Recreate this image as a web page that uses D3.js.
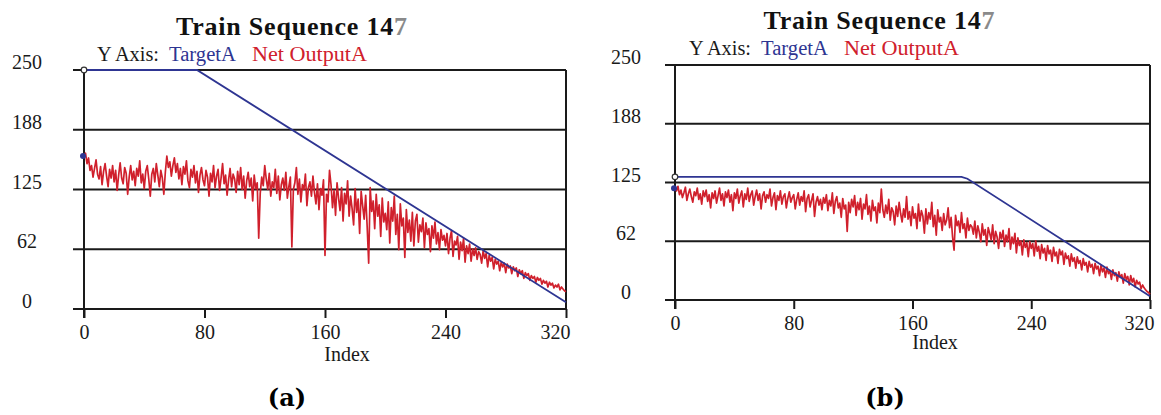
<!DOCTYPE html>
<html><head><meta charset="utf-8">
<script src="https://cdn.jsdelivr.net/npm/d3@7/dist/d3.min.js"></script>
<style>body{margin:0;background:#fff}svg{display:block}</style>
</head><body><svg id="c" width="1161" height="415"></svg>
<script>
// ---------- data ----------
const xTicks = [0, 80, 160, 240, 320];
const yTicks = [0, 62.5, 125, 187.5, 250];
const yTickLabels = ["0", "62", "125", "188", "250"];
const titleText = "Train Sequence 14";
const titleTail = "7";
const legendPrefix = "Y Axis:";
const legendItems = ["TargetA", "Net OutputA"];
const xAxisTitle = "Index";
const panelLabels = ["(a)", "(b)"];

// Panel (a)
const targetA_idx = [0, 75, 320];
const targetA_val = [250, 250, 7];
const outputA = [
160,163,152,158,145,150,138,147,156,141,136,149,130,144,152,139,128,146,137,150,
133,145,124,140,153,137,131,148,142,120,138,150,135,144,129,147,139,155,132,141,
126,144,150,136,118,141,147,133,152,140,128,145,137,120,143,160,148,154,139,150,
158,143,152,136,147,130,149,141,155,134,127,146,138,150,132,144,122,140,148,135,
129,145,138,118,142,133,150,127,139,146,124,137,152,131,140,119,135,147,128,141,
136,122,144,130,148,125,139,116,134,143,128,137,113,140,126,132,74,121,138,129,
150,136,125,142,118,133,127,146,121,139,114,130,137,124,143,116,128,138,65,125,
132,148,120,136,112,130,125,141,108,127,133,118,139,122,110,131,104,126,119,135,
56,120,112,145,130,106,124,98,132,116,103,127,92,121,110,134,97,118,105,88,
126,101,115,79,123,108,94,119,86,48,127,102,113,84,120,97,109,76,116,91,
100,83,112,69,106,92,118,78,99,62,110,87,95,54,104,80,93,71,101,66,
92,99,70,88,81,95,64,90,78,84,60,87,74,91,68,80,62,83,72,77,
66,79,58,74,82,55,71,67,76,52,70,61,74,49,66,58,68,50,63,56,
64,52,60,57,48,61,53,58,44,56,50,54,42,52,47,50,40,49,44,48,
38,47,43,45,37,44,40,43,34,41,37,40,32,38,35,37,30,35,32,34,
28,33,30,32,26,30,27,29,23,28,25,27,22,25,23,26,20,23,21,19,
18];

// Panel (b)
const targetB_idx = [0, 193, 197, 320];
const targetB_val = [131, 131, 129, 4];
const outputB = [
119,116,121,112,117,109,114,120,106,113,118,110,104,115,111,119,107,113,102,116,
110,117,105,112,98,114,108,116,103,111,119,106,113,100,115,109,117,104,112,95,
114,108,118,103,111,116,99,113,107,119,105,112,116,101,110,117,106,113,97,111,
115,104,112,108,118,100,109,114,96,111,106,116,102,110,113,98,108,115,104,109,
112,97,107,114,101,110,105,116,94,108,112,99,106,113,89,104,110,101,107,96,
109,103,112,95,106,100,114,92,105,110,98,103,88,108,97,101,73,104,93,107,
99,111,90,104,96,108,86,102,97,112,91,100,84,106,95,99,82,103,93,118,
96,88,101,92,107,85,98,94,80,100,89,104,92,83,97,88,110,86,94,79,
99,87,92,76,102,84,95,89,71,97,81,93,86,104,78,90,69,96,83,88,
74,92,80,85,98,77,88,67,53,90,79,84,72,93,76,81,66,87,74,80,
78,70,84,66,79,72,62,81,69,75,58,77,71,64,80,60,73,67,55,72,
65,74,57,69,62,76,54,67,60,71,50,66,58,63,48,64,56,61,46,62,
55,60,47,63,52,57,44,59,50,55,42,58,49,53,41,56,47,51,39,54,
48,52,38,50,44,47,36,49,41,45,34,46,39,42,32,44,37,40,30,41,
35,38,28,39,33,36,26,37,30,34,24,35,28,31,22,32,26,29,20,30,
24,27,18,28,22,25,16,26,19,23,14,21,17,19,12,16,13,11,9,8,
6];

// ---------- layout ----------
const panels = [
  {x0:84, x1:566, yT:70, yB:309, gridL:73, ylabX:27, titleX:291.5, titleY:35, legX:97, legY:61,
   idxX:347, idxY:361, xlabY:339, label:panelLabels[0], labX:287,
   tIdx:targetA_idx, tVal:targetA_val, out:outputA},
  {x0:675, x1:1150, yT:65, yB:300, gridL:665, ylabX:626, titleX:879, titleY:29, legX:689, legY:55,
   idxX:935, idxY:349, xlabY:330, label:panelLabels[1], labX:885,
   tIdx:targetB_idx, tVal:targetB_val, out:outputB}
];

const svg = d3.select("#c");
const serif = "'Liberation Serif','Times New Roman',serif";
const blue = "#2e3592", red = "#d0202c", ink = "#1a1a1a";

panels.forEach(p => {
  const x = d3.scaleLinear().domain([0, 320]).range([p.x0, p.x1]);
  const y = d3.scaleLinear().domain([0, 250]).range([p.yB, p.yT]);
  const g = svg.append("g");

  // gridlines
  g.selectAll(".grid").data(yTicks).join("line")
    .attr("x1", p.gridL).attr("x2", p.x1)
    .attr("y1", d => y(d)).attr("y2", d => y(d))
    .attr("stroke", ink).attr("stroke-width", 2);

  // x axis ticks
  const xAxis = d3.axisBottom(x).tickValues(xTicks).tickSize(9).tickPadding(3).tickFormat(d3.format("d"));
  const xa = g.append("g").attr("transform", `translate(0,${p.yB})`).call(xAxis);
  xa.select(".domain").remove();
  xa.selectAll(".tick line").attr("stroke", ink).attr("stroke-width", 2);
  xa.selectAll(".tick text").attr("font-family", serif).attr("font-size", 20)
    .attr("fill", ink).attr("y", p.xlabY - p.yB).attr("dy", 0)
    .attr("text-anchor", d => d === xTicks[xTicks.length - 1] ? "end" : "middle")
    .attr("x", d => d === xTicks[xTicks.length - 1] ? 4 : 0);

  // left axis + right border
  g.append("line").attr("x1", p.x0).attr("x2", p.x0).attr("y1", p.yT).attr("y2", p.yB + 9)
    .attr("stroke", ink).attr("stroke-width", 2);
  g.append("line").attr("x1", p.x1).attr("x2", p.x1).attr("y1", p.yT).attr("y2", p.yB)
    .attr("stroke", ink).attr("stroke-width", 2);

  // y tick labels
  g.selectAll(".yl").data(yTicks).join("text")
    .attr("x", p.ylabX).attr("y", d => y(d) - 1)
    .attr("text-anchor", "middle").attr("font-family", serif).attr("font-size", 20)
    .attr("fill", ink).text((d, i) => yTickLabels[i]);

  const line = d3.line().x(d => x(d[0])).y(d => y(d[1]));
  const tData = p.tIdx.map((d, i) => [d, p.tVal[i]]);
  const oData = p.out.map((v, i) => [i, v]);
  g.append("path").datum(oData).attr("d", line).attr("fill", "none")
    .attr("stroke", red).attr("stroke-width", 1.7).attr("stroke-linejoin", "round");
  g.append("path").datum(tData).attr("d", line).attr("fill", "none")
    .attr("stroke", blue).attr("stroke-width", 1.8);

  // start markers
  g.append("circle").attr("cx", x(tData[0][0])).attr("cy", y(tData[0][1])).attr("r", 2.8)
    .attr("fill", "#fff").attr("stroke", "#333").attr("stroke-width", 1.2);
  g.append("circle").attr("cx", x(0) - 1).attr("cy", y(p.out[0])).attr("r", 3)
    .attr("fill", blue);

  // title
  const t = svg.append("text").attr("x", p.titleX).attr("y", p.titleY).attr("text-anchor", "middle")
    .attr("font-family", serif).attr("font-size", 26).attr("font-weight", "bold").attr("fill", "#111")
    .attr("textLength", 231).attr("lengthAdjust", "spacing");
  t.append("tspan").text(titleText);
  t.append("tspan").attr("fill", "#8a8a8a").text(titleTail);

  // legend
  const lg = svg.append("g").attr("font-family", serif).attr("font-size", 20);
  lg.append("text").attr("x", p.legX).attr("y", p.legY).attr("fill", ink)
    .attr("textLength", 62).attr("lengthAdjust", "spacingAndGlyphs").text(legendPrefix);
  lg.append("text").attr("x", p.legX + 72).attr("y", p.legY).attr("fill", blue)
    .attr("textLength", 67).attr("lengthAdjust", "spacingAndGlyphs").text(legendItems[0]);
  lg.append("text").attr("x", p.legX + 155).attr("y", p.legY).attr("fill", red)
    .attr("textLength", 115).attr("lengthAdjust", "spacingAndGlyphs").text(legendItems[1]);

  // x axis title
  svg.append("text").attr("x", p.idxX).attr("y", p.idxY).attr("text-anchor", "middle")
    .attr("font-family", serif).attr("font-size", 20).attr("fill", ink).text(xAxisTitle);

  // panel label
  svg.append("text").attr("x", p.labX).attr("y", 406).attr("text-anchor", "middle")
    .attr("font-family", "'DejaVu Serif',serif").attr("font-size", 24).attr("font-weight", "bold")
    .attr("fill", "#000").text(p.label);
});
</script></body></html>
